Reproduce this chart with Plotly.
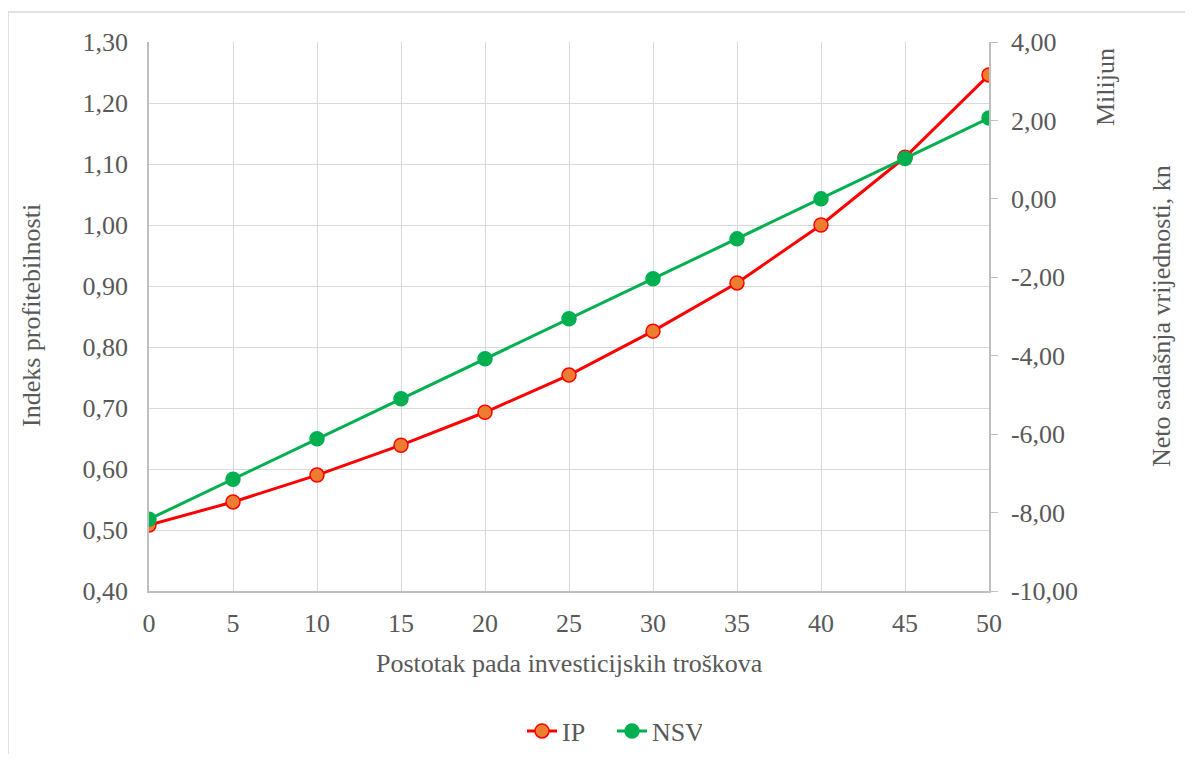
import plotly.graph_objects as go

x_pct = [0, 5, 10, 15, 20, 25, 30, 35, 40, 45, 50]
ip_values = [0.508, 0.546, 0.590, 0.639, 0.693, 0.754, 0.826, 0.905, 1.000, 1.111, 1.246]
nsv_values = [-8.17, -7.15, -6.12, -5.10, -4.08, -3.06, -2.04, -1.02, 0.00, 1.03, 2.06]

left_tickvals = [0.4, 0.5, 0.6, 0.7, 0.8, 0.9, 1.0, 1.1, 1.2, 1.3]
left_ticktext = ["0,40", "0,50", "0,60", "0,70", "0,80", "0,90", "1,00", "1,10", "1,20", "1,30"]
right_tickvals = [-10, -8, -6, -4, -2, 0, 2, 4]
right_ticktext = ["-10,00", "-8,00", "-6,00", "-4,00", "-2,00", "0,00", "2,00", "4,00"]

FONT = "'Times New Roman', 'Liberation Serif', 'DejaVu Serif', serif"
TXT = "#595959"
FS = 26

W, H = 1178, 746
L, T, PW, PH = 141, 34, 840, 549
R = W - L - PW
B = H - T - PH


def px(fx):
    return (fx - L) / PW


def py(fy):
    return (T + PH - fy) / PH


fig = go.Figure()
fig.add_trace(go.Scatter(
    x=x_pct, y=ip_values, name="IP", mode="lines+markers",
    line=dict(color="#FF0000", width=3),
    marker=dict(size=14, color="#ED7D31", line=dict(color="#FF0000", width=1.5)),
    yaxis="y"))
fig.add_trace(go.Scatter(
    x=x_pct, y=nsv_values, name="NSV", mode="lines+markers",
    line=dict(color="#00B050", width=3),
    marker=dict(size=14, color="#00B050", line=dict(color="#00B050", width=1.5)),
    yaxis="y2"))

fig.update_layout(
    width=W, height=H,
    margin=dict(l=L, r=R, t=T, b=B, autoexpand=False),
    paper_bgcolor="white", plot_bgcolor="white",
    font=dict(family=FONT, color=TXT, size=FS),
    showlegend=True,
    legend=dict(orientation="h", xref="container", yref="container",
                x=604 / W, xanchor="center", y=1 - 723 / H, yanchor="middle",
                entrywidth=45, entrywidthmode="pixels",
                font=dict(size=FS, color=TXT, family=FONT)),
    xaxis=dict(range=[0, 50], tickvals=x_pct, showgrid=True, gridcolor="#D9D9D9",
               gridwidth=1, showline=True, linecolor="#BFBFBF", linewidth=1.5,
               ticks="", zeroline=False, tickfont=dict(size=FS, color=TXT, family=FONT),
               ticklabelstandoff=8),
    yaxis=dict(range=[0.4, 1.3], tickvals=left_tickvals, ticktext=left_ticktext,
               showgrid=True, gridcolor="#D9D9D9", gridwidth=1, showline=True,
               linecolor="#BFBFBF", linewidth=1.5, ticks="", zeroline=False,
               tickfont=dict(size=FS, color=TXT, family=FONT), ticklabelstandoff=14),
    yaxis2=dict(range=[-10, 4], tickvals=right_tickvals, ticktext=right_ticktext,
                overlaying="y", side="right", showgrid=False, showline=True,
                linecolor="#BFBFBF", linewidth=1.5, ticks="outside", ticklen=7,
                tickcolor="#BFBFBF", zeroline=False,
                tickfont=dict(size=FS, color=TXT, family=FONT), ticklabelstandoff=8),
    shapes=[dict(type="rect", xref="paper", yref="paper",
                 x0=px(0), x1=px(1220), y0=py(780), y1=py(4),
                 line=dict(color="#D9D9D9", width=1.5), fillcolor="rgba(0,0,0,0)",
                 layer="below")],
    annotations=[
        dict(text="Postotak pada investicijskih troškova", xref="paper", yref="paper",
             x=px(561), y=py(655), showarrow=False,
             font=dict(size=FS, color=TXT, family=FONT), xanchor="center", yanchor="middle"),
        dict(text="Indeks profitebilnosti", xref="paper", yref="paper",
             x=px(23), y=py(308), textangle=-90, showarrow=False,
             font=dict(size=FS, color=TXT, family=FONT), xanchor="center", yanchor="middle"),
        dict(text="Milijun", xref="paper", yref="paper",
             x=px(1098), y=py(79), textangle=-90,
             showarrow=False, font=dict(size=FS, color=TXT, family=FONT),
             xanchor="center", yanchor="middle"),
        dict(text="Neto sadašnja vrijednosti, kn", xref="paper", yref="paper",
             x=px(1153), y=py(308), textangle=-90,
             showarrow=False, font=dict(size=FS, color=TXT, family=FONT),
             xanchor="center", yanchor="middle"),
    ],
)

fig.write_html("out.html")
